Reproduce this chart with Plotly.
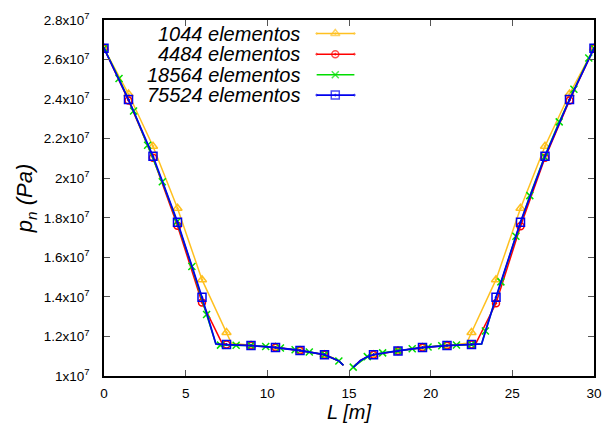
import plotly.graph_objects as go

# ---- axis ticks ----
X_TICKS = [0, 5, 10, 15, 20, 25, 30]
Y_TICKS = [1.0e7, 1.2e7, 1.4e7, 1.6e7, 1.8e7, 2.0e7, 2.2e7, 2.4e7, 2.6e7, 2.8e7]
Y_TICK_LABELS = ["1x10<sup>7</sup>", "1.2x10<sup>7</sup>", "1.4x10<sup>7</sup>",
                 "1.6x10<sup>7</sup>", "1.8x10<sup>7</sup>", "2x10<sup>7</sup>",
                 "2.2x10<sup>7</sup>", "2.4x10<sup>7</sup>", "2.6x10<sup>7</sup>",
                 "2.8x10<sup>7</sup>"]

SERIES_NAMES = ["1044 elementos", "4484 elementos", "18564 elementos", "75524 elementos"]

# ---- normal pressure along the wall, one profile per mesh (None = gap at L=15) ----
L_1044 = [0, 1.5, 3, 4.5, 6, 7.5, 7.8, 9, 10.5, 12, 13.5, 14.0, 14.38, 14.66, None,
          15.26, 15.7, 16.12, 16.5, 18, 19.5, 21, 22.2, 22.5, 24, 25.5, 27, 28.5, 30]
p_1044 = [2.657e7, 2.426e7, 2.162e7, 1.848e7, 1.487e7, 1.220e7, 1.165e7, 1.155e7, 1.145e7,
          1.129e7, 1.108e7, 1.092e7, 1.076e7, 1.054e7, None,
          1.044e7, 1.078e7, 1.097e7, 1.108e7, 1.127e7, 1.144e7, 1.154e7, 1.165e7,
          1.220e7, 1.487e7, 1.848e7, 2.162e7, 2.426e7, 2.657e7]

L_4484 = [0, 1.5, 3, 4.5, 6, 6.5, 7.0, 7.2, 7.5, 9, 10.5, 12, 13.5, 14.0, 14.38, 14.66, None,
          15.26, 15.7, 16.12, 16.5, 18, 19.5, 21, 22.5, 22.8, 23.0, 23.5, 24, 25.5, 27, 28.5, 30]
p_4484 = [2.657e7, 2.393e7, 2.103e7, 1.760e7, 1.372e7, 1.290e7, 1.203e7, 1.170e7, 1.159e7,
          1.154e7, 1.144e7, 1.129e7, 1.108e7, 1.092e7, 1.076e7, 1.054e7, None,
          1.044e7, 1.078e7, 1.097e7, 1.108e7, 1.127e7, 1.144e7, 1.154e7, 1.159e7,
          1.170e7, 1.203e7, 1.290e7, 1.368e7, 1.757e7, 2.103e7, 2.393e7, 2.657e7]

L_18564 = [0, 0.92, 1.81, 2.67, 3.57, 4.47, 5.38, 6.28, 6.85, 7.13, 8.09, 9.0, 9.9, 10.8,
           11.7, 12.57, 13.5, 14.38, 14.66, None,
           15.26, 16.12, 17.06, 18.0, 18.87, 19.84, 20.68, 21.58, 22.5, 23.12, 23.35,
           24.3, 25.22, 26.07, 26.97, 27.87, 28.77, 29.68, 30]
p_18564 = [2.657e7, 2.504e7, 2.340e7, 2.167e7, 1.982e7, 1.780e7, 1.554e7, 1.311e7, 1.162e7,
           1.156e7, 1.155e7, 1.154e7, 1.149e7, 1.142e7, 1.133e7, 1.121e7, 1.108e7,
           1.076e7, 1.054e7, None,
           1.045e7, 1.098e7, 1.117e7, 1.127e7, 1.138e7, 1.147e7, 1.153e7, 1.157e7,
           1.160e7, 1.162e7, 1.228e7, 1.476e7, 1.707e7, 1.912e7, 2.108e7, 2.285e7,
           2.450e7, 2.608e7, 2.657e7]

L_75524 = [0, 1.5, 3, 4.5, 6, 6.85, 7.5, 9, 10.5, 12, 13.5, 14.0, 14.38, 14.66, None,
           15.26, 15.7, 16.12, 16.5, 18, 19.5, 21, 22.5, 23.12, 24, 25.5, 27, 28.5, 30]
p_75524 = [2.657e7, 2.398e7, 2.111e7, 1.778e7, 1.398e7, 1.162e7, 1.159e7, 1.154e7, 1.144e7,
           1.129e7, 1.108e7, 1.092e7, 1.076e7, 1.054e7, None,
           1.044e7, 1.078e7, 1.097e7, 1.108e7, 1.127e7, 1.144e7, 1.154e7, 1.159e7,
           1.162e7, 1.398e7, 1.778e7, 2.111e7, 2.398e7, 2.657e7]

# positions along L where a point symbol is drawn
MARKS_COARSE = [0, 1.5, 3, 4.5, 6, 7.5, 9, 10.5, 12, 13.5, 16.5, 18, 19.5, 21, 22.5,
                24, 25.5, 27, 28.5, 30]
MARKS_18564 = [0, 0.92, 1.81, 2.67, 3.57, 4.47, 5.38, 6.28, 7.13, 8.09, 9.0, 9.9, 10.8,
               11.7, 12.57, 13.5, 14.38, 15.26, 16.12, 17.06, 18.0, 18.87, 19.84, 20.68,
               21.58, 22.5, 23.35, 24.3, 25.22, 26.07, 26.97, 27.87, 28.77, 29.68, 30]

FONT = "Liberation Sans, Arial, Helvetica, sans-serif"

styles = [
    dict(color="#ffc020", symbol="triangle-up-open-dot", size=8, width=1.5),
    dict(color="#ff0000", symbol="circle-open-dot", size=7, width=1.5),
    dict(color="#00dd00", symbol="x-thin-open", size=7, width=1.5),
    dict(color="#0000ee", symbol="square-open-dot", size=8, width=1.8),
]
data = [(L_1044, p_1044, MARKS_COARSE), (L_4484, p_4484, MARKS_COARSE),
        (L_18564, p_18564, MARKS_18564), (L_75524, p_75524, MARKS_COARSE)]

fig = go.Figure()
for (xs, ys, marks), st in zip(data, styles):
    fig.add_trace(go.Scatter(x=xs, y=ys, mode="lines", showlegend=False,
                             line=dict(color=st["color"], width=st["width"])))
    mx = [x for x in xs if x is not None and x in marks]
    my = [y for x, y in zip(xs, ys) if x is not None and x in marks]
    fig.add_trace(go.Scatter(x=mx, y=my, mode="markers", showlegend=False,
                             marker=dict(symbol=st["symbol"], size=st["size"],
                                         color=st["color"],
                                         line=dict(color=st["color"], width=1.5))))

# key in the gnuplot style: right-aligned text followed by a line sample
key_rows = [0.962, 0.904, 0.846, 0.789]
for name, st, ky in zip(SERIES_NAMES, styles, key_rows):
    fig.add_annotation(x=0.405, y=ky, xref="paper", yref="paper", text="<i>%s</i>" % name,
                       showarrow=False, xanchor="right", yanchor="middle",
                       font=dict(family=FONT, size=20, color="black"))
    fig.add_trace(go.Scatter(x=[0.434, 0.472, 0.511], y=[ky, ky, ky], xaxis="x2", yaxis="y2",
                             mode="lines+markers", showlegend=False, hoverinfo="skip",
                             line=dict(color=st["color"], width=st["width"]),
                             marker=dict(symbol=st["symbol"], size=[0, st["size"], 0],
                                         color=st["color"],
                                         line=dict(color=st["color"], width=1.5))))

axis_common = dict(showgrid=False, zeroline=False, showline=True, linecolor="black",
                   linewidth=1.5, mirror="ticks", ticks="inside", ticklen=6, tickwidth=1,
                   tickcolor="#555555",
                   tickfont=dict(family=FONT, size=13.5, color="black"))

fig.update_layout(
    width=612, height=429,
    margin=dict(l=104, r=10, t=18, b=48),
    paper_bgcolor="white", plot_bgcolor="white",
    xaxis=dict(range=[0, 30], tickvals=X_TICKS, ticklabelstandoff=4,
               title=dict(text="<i>L [m]</i>", standoff=4,
                          font=dict(family=FONT, size=20, color="black")),
               **axis_common),
    yaxis=dict(range=[1.0e7, 2.8e7], tickvals=Y_TICKS, ticktext=Y_TICK_LABELS,
               ticklabelstandoff=10,
               title=dict(text="<i>p<sub>n</sub> (Pa)</i>", standoff=5,
                          font=dict(family=FONT, size=22, color="black")),
               **axis_common),
    xaxis2=dict(range=[0, 1], overlaying="x", visible=False),
    yaxis2=dict(range=[0, 1], overlaying="y", visible=False),
)

fig.write_html("out.html")
